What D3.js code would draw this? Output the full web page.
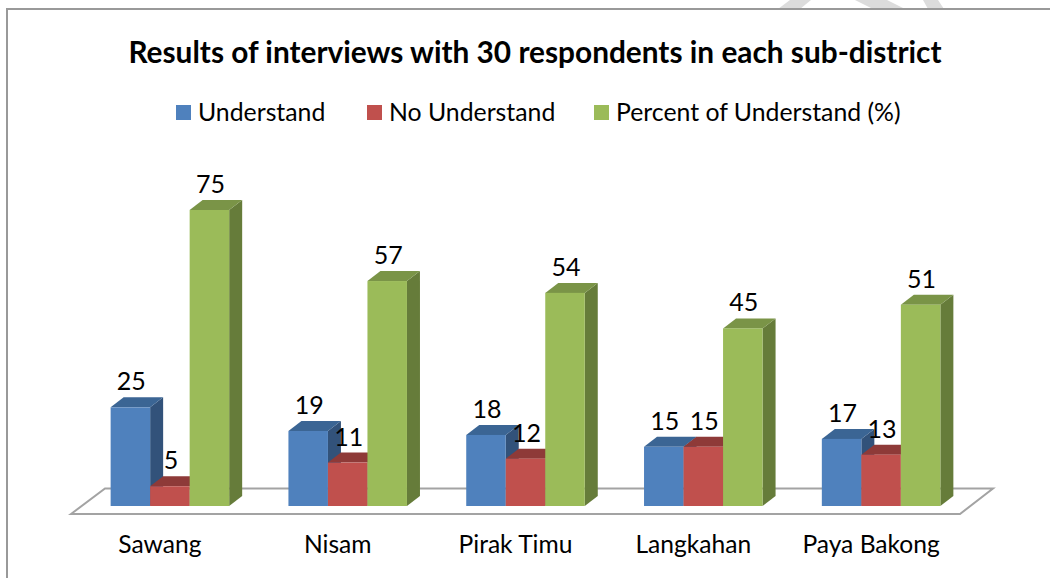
<!DOCTYPE html>
<html>
<head>
<meta charset="utf-8">
<script src="https://cdn.jsdelivr.net/npm/d3@7"></script>
<style>
  html, body { margin: 0; padding: 0; background: #fff; overflow: hidden; }
  text { font-family: Lato, "Open Sans", sans-serif; fill: #000; }
</style>
</head>
<body>
<script>
let categories = ["Sawang","Nisam","Pirak Timu","Langkahan","Paya Bakong"];
let seriesNames = ["Understand","No Understand","Percent of Understand (%)"];
let understand = [25,19,18,15,17];
let noUnderstand = [5,11,12,15,13];
let percentUnderstand = [75,57,54,45,51];
let seriesValues = [understand,noUnderstand,percentUnderstand];

let frontColors = ["#4f81bd","#c0504d","#9bbb59"];
let topColors = ["#3b6594","#8e3a38","#7a9447"];
let sideColors = ["#32527a","#7a3230","#667c3a"];

let width = 1050, height = 578;
let depthX = 13, depthY = 10;
let baseY = 506;

let svg = d3.select("body").append("svg").attr("width",width).attr("height",height);

svg.append("rect").attr("width",width).attr("height",height).attr("fill","#fff");

// watermark strokes peeking out above the chart frame
let wm = svg.append("g").attr("fill","#dcdcdc");
wm.append("path").attr("d","M778,9 L790,0 L811,0 L800,9 Z");
wm.append("path").attr("d","M873,9 L855,0 L887,0 L905,9 Z");
wm.append("path").attr("d","M928,9 L923,0 L938,0 L944,9 Z");

// frame
svg.append("path")
   .attr("d","M7,578 L7,9 L1050,9")
   .attr("fill","none").attr("stroke","#999").attr("stroke-width",2);

// title
svg.append("text").attr("x",535).attr("y",63).attr("text-anchor","middle")
   .attr("font-size",29.8).attr("font-weight",700)
   .text("Results of interviews with 30 respondents in each sub-district");

// legend
let legendX = [176,367,594];
let legend = svg.selectAll("g.legend").data(seriesNames).enter().append("g")
   .attr("class","legend")
   .attr("transform",(d,i)=>"translate("+legendX[i]+",105)");
legend.append("rect").attr("width",15).attr("height",15).attr("fill",(d,i)=>frontColors[i]);
legend.append("text").attr("x",22).attr("y",16).attr("font-size",24.8).text(d=>d);

let x0 = d3.scaleBand().domain(categories).range([81,970]).paddingInner(1/3).paddingOuter(1/6);
let x1 = d3.scaleBand().domain(d3.range(3)).range([0,x0.bandwidth()]);
let y = d3.scaleLinear().domain([0,75]).range([baseY,210]);

// floor of the 3d plot
svg.append("path")
   .attr("d","M71,514 L105,488.5 L993,488.5 L960,514 Z")
   .attr("fill","none").attr("stroke","#a3a3a3").attr("stroke-width",2);

// bars, left to right so each one covers the side of the previous
let group = svg.selectAll("g.cat").data(categories).enter().append("g")
   .attr("class","cat")
   .attr("transform",d=>"translate("+x0(d)+",0)");

group.each(function(cat,c){
  let g = d3.select(this);
  seriesValues.forEach((vals,s)=>{
    let bx = x1(s), w = x1.bandwidth(), ty = y(vals[c]);
    g.append("path").attr("fill",sideColors[s])
     .attr("d","M"+(bx+w)+","+baseY+"l"+depthX+","+(-depthY)+"L"+(bx+w+depthX)+","+(ty-depthY)+"L"+(bx+w)+","+ty+"Z");
    g.append("path").attr("fill",topColors[s])
     .attr("d","M"+bx+","+ty+"l"+depthX+","+(-depthY)+"h"+w+"l"+(-depthX)+","+depthY+"Z");
    g.append("rect").attr("x",bx).attr("y",ty).attr("width",w).attr("height",baseY-ty)
     .attr("fill",frontColors[s]);
  });
});

// value labels on top of everything
group.each(function(cat,c){
  let g = d3.select(this);
  seriesValues.forEach((vals,s)=>{
    g.append("text").attr("x",x1(s)+x1.bandwidth()/2+1).attr("y",y(vals[c])-17)
     .attr("text-anchor","middle").attr("font-size",25).text(vals[c]);
  });
});

// category axis
let xAxis = d3.axisBottom(x0).tickSize(0).tickPadding(0);
let axisG = svg.append("g").attr("transform","translate(-10,531)").call(xAxis);
axisG.select(".domain").remove();
axisG.selectAll("text").attr("font-size",24.6).attr("font-family","Lato").attr("fill","#000").attr("dy","0.9em");
</script>
</body>
</html>
